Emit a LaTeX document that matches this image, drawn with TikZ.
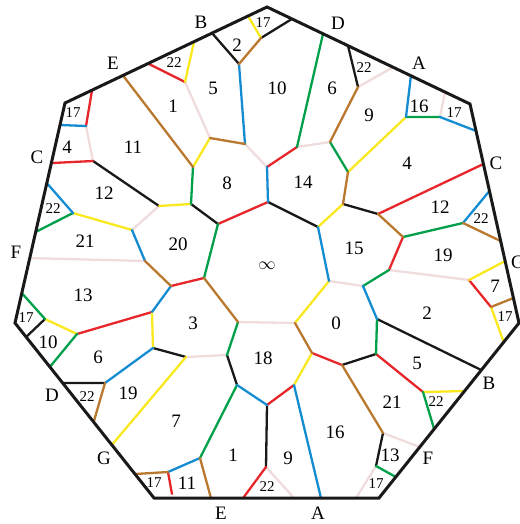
\documentclass[tikz,border=0pt]{standalone}
\usepackage{fontspec}
\setmainfont{Liberation Serif}
\usepackage{xcolor}
\usepackage{tikz}
\usetikzlibrary{calc}
\definecolor{kred}{RGB}{230,38,42}
\definecolor{kyellow}{RGB}{250,232,30}
\definecolor{kgreen}{RGB}{0,160,75}
\definecolor{kblue}{RGB}{20,140,210}
\definecolor{kbrown}{RGB}{185,120,45}
\definecolor{kpink}{RGB}{240,220,220}
\definecolor{kblack}{RGB}{25,25,25}

\begin{document}
\begin{tikzpicture}[
  x=1pt, y=-1pt,
  ln/.style={line width=2.3pt, line cap=round},
  rim/.style={draw=kblack, line width=3pt, line join=miter},
  face/.style={inner sep=0pt, font=\fontsize{19}{19}\selectfont},
  tiny face/.style={inner sep=0pt, font=\fontsize{15}{15}\selectfont},
  side/.style={inner sep=0pt, font=\fontsize{19}{19}\selectfont},
]
  \useasboundingbox (0,0) rectangle (519,524);

  % Heptagon corners
  \coordinate (h1) at (267,7);
  \coordinate (h2) at (470,104);
  \coordinate (h3) at (519,323);
  \coordinate (h4) at (379,498);
  \coordinate (h5) at (154,498);
  \coordinate (h6) at (15,323);
  \coordinate (h7) at (65,103);

  % Points on the rim
  \coordinate (p1) at ($(h1)!0.123!(h2)$);
  \coordinate (p2) at ($(h1)!0.276!(h2)$);
  \coordinate (p3) at ($(h1)!0.399!(h2)$);
  \coordinate (p4) at ($(h1)!0.621!(h2)$);
  \coordinate (p5) at ($(h1)!0.709!(h2)$);
  \coordinate (p6) at ($(h1)!0.877!(h2)$);
  \coordinate (p7) at ($(h2)!0.123!(h3)$);
  \coordinate (p8) at ($(h2)!0.274!(h3)$);
  \coordinate (p9) at ($(h2)!0.397!(h3)$);
  \coordinate (p10) at ($(h2)!0.626!(h3)$);
  \coordinate (p11) at ($(h2)!0.717!(h3)$);
  \coordinate (p12) at ($(h2)!0.886!(h3)$);
  \coordinate (p13) at ($(h3)!0.109!(h4)$);
  \coordinate (p14) at ($(h3)!0.269!(h4)$);
  \coordinate (p15) at ($(h3)!0.389!(h4)$);
  \coordinate (p16) at ($(h3)!0.606!(h4)$);
  \coordinate (p17) at ($(h3)!0.709!(h4)$);
  \coordinate (p18) at ($(h3)!0.88!(h4)$);
  \coordinate (p19) at ($(h4)!0.102!(h5)$);
  \coordinate (p20) at ($(h4)!0.258!(h5)$);
  \coordinate (p21) at ($(h4)!0.378!(h5)$);
  \coordinate (p22) at ($(h4)!0.604!(h5)$);
  \coordinate (p23) at ($(h4)!0.747!(h5)$);
  \coordinate (p24) at (172,494);
  \coordinate (p25) at ($(h5)!0.137!(h6)$);
  \coordinate (p26) at ($(h5)!0.303!(h6)$);
  \coordinate (p27) at ($(h5)!0.434!(h6)$);
  \coordinate (p28) at ($(h5)!0.657!(h6)$);
  \coordinate (p29) at ($(h5)!0.749!(h6)$);
  \coordinate (p30) at ($(h5)!0.92!(h6)$);
  \coordinate (p31) at ($(h6)!0.136!(h7)$);
  \coordinate (p32) at ($(h6)!0.295!(h7)$);
  \coordinate (p33) at ($(h6)!0.414!(h7)$);
  \coordinate (p34) at ($(h6)!0.636!(h7)$);
  \coordinate (p35) at ($(h6)!0.727!(h7)$);
  \coordinate (p36) at ($(h6)!0.9!(h7)$);
  \coordinate (p37) at ($(h7)!0.134!(h1)$);
  \coordinate (p38) at ($(h7)!0.287!(h1)$);
  \coordinate (p39) at ($(h7)!0.411!(h1)$);
  \coordinate (p40) at ($(h7)!0.639!(h1)$);
  \coordinate (p41) at ($(h7)!0.728!(h1)$);
  \coordinate (p42) at ($(h7)!0.906!(h1)$);

  % Inner vertices
  \coordinate (a1) at (86,126);   \coordinate (a2) at (93,161);
  \coordinate (a3) at (185,82);   \coordinate (a4) at (210,138);
  \coordinate (a5) at (193,167);  \coordinate (a6) at (245,144);
  \coordinate (a7) at (239,64);   \coordinate (a8) at (261,38);
  \coordinate (a9) at (358,87);   \coordinate (a10) at (330,142);
  \coordinate (a11) at (297,147); \coordinate (a12) at (267,167);
  \coordinate (a13) at (348,172); \coordinate (a14) at (406,117);
  \coordinate (a15) at (440,117); \coordinate (a16) at (191,204);
  \coordinate (a17) at (159,206); \coordinate (a18) at (268,202);
  \coordinate (a19) at (218,224); \coordinate (a20) at (318,227);
  \coordinate (a21) at (343,204); \coordinate (a22) at (378,214);
  \coordinate (a23) at (73,213);  \coordinate (a24) at (132,230);
  \coordinate (a25) at (145,261); \coordinate (a26) at (171,286);
  \coordinate (a27) at (204,278); \coordinate (a28) at (152,312);
  \coordinate (a29) at (77,334);  \coordinate (a30) at (45,319);
  \coordinate (a31) at (403,237); \coordinate (a32) at (463,223);
  \coordinate (a33) at (389,270); \coordinate (a34) at (469,280);
  \coordinate (a35) at (491,307); \coordinate (a36) at (329,281);
  \coordinate (a37) at (363,286); \coordinate (a38) at (377,319);
  \coordinate (a39) at (238,322); \coordinate (a40) at (295,323);
  \coordinate (a41) at (153,348); \coordinate (a42) at (186,357);
  \coordinate (a43) at (227,355); \coordinate (a44) at (105,383);
  \coordinate (a45) at (312,353); \coordinate (a46) at (342,365);
  \coordinate (a47) at (376,354); \coordinate (a48) at (237,385);
  \coordinate (a49) at (267,405); \coordinate (a50) at (294,385);
  \coordinate (a51) at (423,392); \coordinate (a52) at (383,433);
  \coordinate (a53) at (376,466); \coordinate (a54) at (200,458);
  \coordinate (a55) at (168,472); \coordinate (a56) at (266,467);

  % Pink edges
  \draw[ln, kpink] (a1) -- (a2)  (a3) -- (a4)  (a6) -- (a12)  (a9) -- (p4)
    (a10) -- (a11)  (a15) -- (p6)  (a17) -- (a24)  (a25) -- (p32)
    (a33) -- (a34)  (a36) -- (a37)  (a39) -- (a40)  (a42) -- (a43)
    (a52) -- (p17)  (a53) -- (p19)  (a56) -- (p21);

  % Black edges
  \draw[ln, kblack] (p41) -- (a7)  (a8) -- (p1)  (p3) -- (a9)  (a2) -- (a17)
    (a16) -- (a19)  (a18) -- (a20)  (a21) -- (a22)  (a30) -- (p30)
    (p28) -- (a44)  (a41) -- (a42)  (a43) -- (a48)  (a38) -- (p14)
    (a46) -- (a47)  (a52) -- (a53)  (a56) -- (a49);

  % Red edges
  \draw[ln, kred] (p37) -- (a1)  (p35) -- (a2)  (p39) -- (a3)  (a11) -- (a12)
    (a18) -- (a19)  (p8) -- (a22)  (a31) -- (a33)  (a26) -- (a27)
    (a28) -- (a29)  (a34) -- (a35)  (a45) -- (a46)  (a47) -- (a51)
    (a49) -- (a50)  (a55) -- (p24)  (p22) -- (a56);

  % Yellow edges
  \draw[ln, kyellow] (a3) -- (p40)  (a4) -- (a5)  (a8) -- (p42)  (a13) -- (a14)
    (a16) -- (a17)  (a20) -- (a21)  (a23) -- (a24)  (a29) -- (a30)
    (a34) -- (p11)  (a35) -- (p13)  (a36) -- (a40)  (a28) -- (a41)
    (a42) -- (p26)  (a45) -- (a50)  (a51) -- (p15);

  % Green edges
  \draw[ln, kgreen] (a5) -- (a16)  (p2) -- (a11)  (a10) -- (a13)  (a14) -- (a15)
    (a19) -- (a27)  (a23) -- (p33)  (a30) -- (p31)  (a29) -- (p29)
    (a31) -- (a32)  (a33) -- (a37)  (a38) -- (a47)  (a39) -- (a43)
    (a48) -- (a54)  (a51) -- (p16)  (a53) -- (p18);

  % Blue edges
  \draw[ln, kblue] (a1) -- (p36)  (a6) -- (a7)  (a12) -- (a18)  (a14) -- (p5)
    (a15) -- (p7)  (a20) -- (a36)  (a23) -- (p34)  (a24) -- (a25)
    (a26) -- (a28)  (a32) -- (p9)  (a37) -- (a38)  (a41) -- (a44)
    (a48) -- (a49)  (a50) -- (p20)  (a54) -- (a55);

  % Brown edges
  \draw[ln, kbrown] (p38) -- (a5)  (a4) -- (a6)  (a7) -- (a8)  (a9) -- (a10)
    (a13) -- (a21)  (a22) -- (a31)  (a25) -- (a26)  (a27) -- (a39)
    (a32) -- (p10)  (a35) -- (p12)  (a40) -- (a45)  (a46) -- (a52)
    (a44) -- (p27)  (a55) -- (p25)  (a54) -- (p23);

  % Rim
  \draw[rim] (h1) -- (h2) -- (h3) -- (h4) -- (h5) -- (h6) -- (h7) -- cycle;

  % Side letters
  \node[side] (sB1) at (201,22) {B};
  \node[side] (sD1) at (338,23) {D};
  \node[side] (sE1) at (113,63) {E};
  \node[side] (sA1) at (419,63) {A};
  \node[side] (sC1) at (37,157) {C};
  \node[side] (sC2) at (496,163) {C};
  \node[side] (sF1) at (16,252) {F};
  \node[side] (sG1) at (518,262) {G};
  \node[side] (sD2) at (52,395) {D};
  \node[side] (sB2) at (489,383) {B};
  \node[side] (sG2) at (104,458) {G};
  \node[side] (sF2) at (428,458) {F};
  \node[side] (sE2) at (221,513) {E};
  \node[side] (sA2) at (318,513) {A};

  % Face numbers
  \node[face] (f2a) at (237,45) {2};
  \node[face] (f5a) at (213,88) {5};
  \node[face] (f10a) at (277,88) {10};
  \node[face] (f6a) at (332,88) {6};
  \node[face] (f9a) at (369,115) {9};
  \node[face] (f16a) at (419,106) {16};
  \node[face] (f1a) at (173,106) {1};
  \node[face] (f4a) at (67,147) {4};
  \node[face] (f11a) at (133,147) {11};
  \node[face] (f8) at (227,183) {8};
  \node[face] (f14) at (303,182) {14};
  \node[face] (f4b) at (407,163) {4};
  \node[face] (f12a) at (104,193) {12};
  \node[face] (f12b) at (440,207) {12};
  \node[face] (f20) at (178,244) {20};
  \node[face] (f15) at (354,248) {15};
  \node[face] (f19a) at (443,255) {19};
  \node[face] (f21a) at (85,241) {21};
  \node[face] (finf) at (267,266) {$\infty$};
  \node[face] (f7a) at (495,286) {7};
  \node[face] (f13a) at (83,295) {13};
  \node[face] (f0) at (336,323) {0};
  \node[face] (f2b) at (427,313) {2};
  \node[face] (f3) at (193,323) {3};
  \node[face] (f10b) at (48,342) {10};
  \node[face] (f6b) at (98,357) {6};
  \node[face] (f18) at (263,358) {18};
  \node[face] (f5b) at (417,363) {5};
  \node[face] (f19b) at (128,393) {19};
  \node[face] (f21b) at (392,402) {21};
  \node[face] (f7b) at (176,421) {7};
  \node[face] (f16b) at (335,432) {16};
  \node[face] (f1b) at (233,455) {1};
  \node[face] (f9b) at (288,458) {9};
  \node[face] (f13b) at (390,455) {13};
  \node[face] (f11b) at (187,483) {11};

  % Small faces at the rim
  \node[tiny face] (f17a) at (263,23) {17};
  \node[tiny face] (f22a) at (174,63) {22};
  \node[tiny face] (f22b) at (364,68) {22};
  \node[tiny face] (f17b) at (454,113) {17};
  \node[tiny face] (f17c) at (73,113) {17};
  \node[tiny face] (f22c) at (53,209) {22};
  \node[tiny face] (f22d) at (481,219) {22};
  \node[tiny face] (f17d) at (26,318) {17};
  \node[tiny face] (f17e) at (505,317) {17};
  \node[tiny face] (f22e) at (87,397) {22};
  \node[tiny face] (f22f) at (436,402) {22};
  \node[tiny face] (f17f) at (154,483) {17};
  \node[tiny face] (f22g) at (267,487) {22};
  \node[tiny face] (f17g) at (376,484) {17};

\end{tikzpicture}
\end{document}
